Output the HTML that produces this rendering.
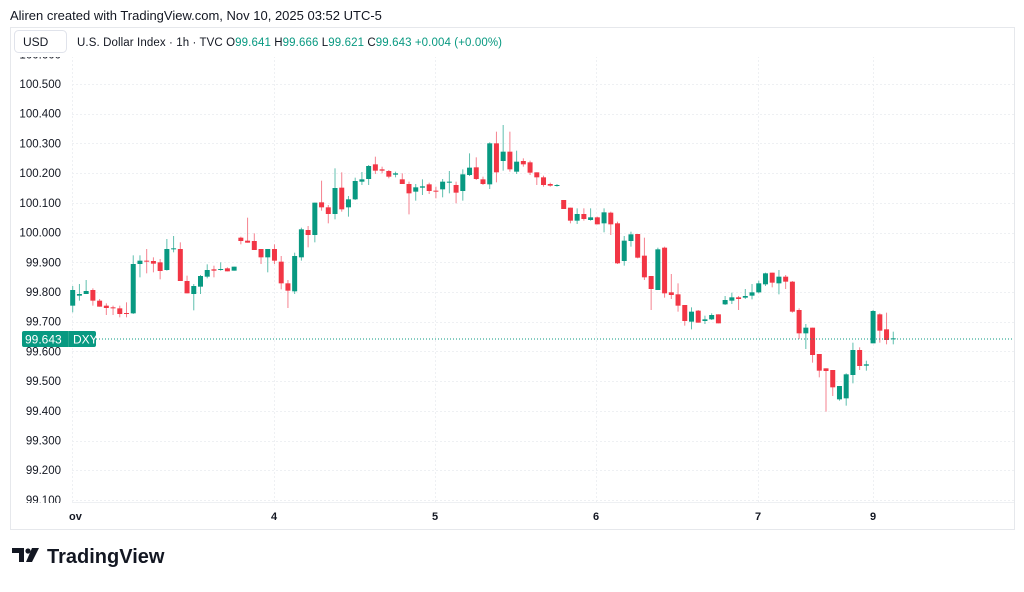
<!DOCTYPE html>
<html><head><meta charset="utf-8"><style>
body{margin:0;background:#fff;width:1024px;height:587px;overflow:hidden;font-family:"Liberation Sans",sans-serif}
</style></head><body>
<svg id="s" width="1024" height="587" xmlns="http://www.w3.org/2000/svg" font-family="Liberation Sans, sans-serif">
<rect x="0" y="0" width="1024" height="587" fill="#fff"/>
<text x="10" y="20" font-size="13" fill="#131722">Aliren created with TradingView.com, Nov 10, 2025 03:52 UTC-5</text>
<rect x="10.5" y="27.5" width="1004" height="502" fill="#fff" stroke="#e6e8ec"/>
<g id="grid"></g>
<g id="cand"></g>
<g id="hdr">
<rect x="11" y="28" width="1003" height="29" fill="#fff"/>
<rect x="14.5" y="30.5" width="52" height="22" rx="4" fill="#fff" stroke="#e0e3eb"/>
<text x="23" y="46" font-size="12" fill="#131722">USD</text>
<text x="77" y="46" font-size="11.5" fill="#131722" textLength="425">U.S. Dollar Index · 1h · TVC <tspan>O</tspan><tspan fill="#089981">99.641</tspan> H<tspan fill="#089981">99.666</tspan> L<tspan fill="#089981">99.621</tspan> C<tspan fill="#089981">99.643</tspan> <tspan fill="#089981">+0.004 (+0.00%)</tspan></text>
</g>
<line x1="72" y1="339" x2="1014" y2="339" stroke="#089981" stroke-width="1" stroke-dasharray="1,2"/>
<rect x="22" y="331" width="74" height="16" rx="2" fill="#089981"/>
<line x1="68.5" y1="331" x2="68.5" y2="347" stroke="#2aa88f"/>
<text x="25" y="343.5" font-size="12" fill="#fff">99.643</text>
<text x="73" y="343.5" font-size="12" fill="#fff">DXY</text>
<g font-size="11" fill="#131722" font-weight="bold">
<text x="69" y="520">ov</text><text x="271" y="520">4</text><text x="432" y="520">5</text><text x="593" y="520">6</text><text x="755" y="520">7</text><text x="870" y="520">9</text>
</g>
<g transform="translate(12,548)">
<path d="M0 0h12v14h-5v-9h-7z" fill="#131722"/>
<circle cx="16" cy="3" r="2.6" fill="#131722"/>
<path d="M20 0h7l-7 14h-6z" fill="#131722"/>
<text x="35" y="15" font-size="20" font-weight="bold" fill="#131722">TradingView</text>
</g>
</svg>
<script>
var NS="http://www.w3.org/2000/svg";
function el(p,t,a){var e=document.createElementNS(NS,t);for(var k in a)e.setAttribute(k,a[k]);p.appendChild(e);return e;}
var grid=document.getElementById('grid'),cand=document.getElementById('cand');
function Y(p){return 84+(100.5-p)*297.1;}
[72,274,435,596,758,873].forEach(function(x){el(grid,'line',{x1:x+.5,y1:28,x2:x+.5,y2:502,stroke:'#eef0f3','stroke-dasharray':'2,2'});});
el(grid,'line',{x1:72,y1:502.5,x2:1014,y2:502.5,stroke:'#eef0f3'});
for(var i=0;i<=15;i++){var p=99.1+i*0.1,y=Y(p);
 if(y>60)el(grid,'line',{x1:72,y1:Math.round(y)+.5,x2:1014,y2:Math.round(y)+.5,stroke:'#eef0f3','stroke-dasharray':'2,2'});
 var t=el(grid,'text',{x:61,y:y+4,'font-size':11.5,fill:'#131722','text-anchor':'end'});t.textContent=p.toFixed(3);}
el(grid,'rect',{x:11,y:503,width:60,height:10,fill:'#fff'});
var segs=[
[150,[[420,467,408,487,'g'],[432,437,402,452,'g'],[423,432,390,432,'g'],[420,452,415,467,'r'],[452,470,447,470,'r'],[467,474,460,495,'r'],[472,475,467,495,'r'],[475,492,467,502,'r'],[489,492,457,502,'r'],[342,490,316,492,'g'],[332,342,316,382,'g'],[332,334,297,370,'r'],[333,341,322,367,'r'],[337,363,327,388,'r'],[297,360,267,362,'g'],[295,298,258,307,'g'],[297,393,277,393,'r'],[393,430,377,430,'r'],[408,432,402,481,'g'],[378,410,375,432,'g'],[360,380,343,385,'g'],[358,362,347,382,'r'],[357,358,337,362,'g'],[355,364,352,364,'r'],[350,362,350,362,'g'],[263,273,260,283,'r'],[272,278,203,278,'r'],[273,300,250,300,'r'],[297,322,297,342,'r'],[297,322,297,367,'g'],[297,332,283,342,'r'],[335,400,318,418,'r'],[400,422,390,474,'r'],[318,424,308,432,'g'],[238,322,233,332,'g'],[240,255,228,292,'r'],[158,255,158,277,'g']]],
[120,[[247,262,182,272,'r'],[262,282,255,310,'r'],[204,282,145,298,'g'],[203,268,157,275,'r'],[238,262,228,290,'g'],[183,238,173,240,'g'],[178,185,156,195,'g'],[138,177,135,195,'g'],[133,152,110,162,'r'],[148,152,140,160,'r'],[153,170,150,175,'r'],[160,164,155,172,'g'],[178,192,160,192,'r'],[192,220,185,283,'r'],[202,215,192,242,'g'],[199,203,178,225,'g'],[193,213,188,222,'r'],[212,213,200,235,'r'],[185,208,177,232,'g'],[185,186,153,220,'g'],[195,218,185,250,'r'],[163,213,148,242,'g'],[143,165,100,168,'g'],[142,177,112,180,'r'],[178,192,170,195,'r'],[70,193,67,207,'g'],[70,157,35,187,'r'],[95,123,15,152,'g'],[95,148,35,155,'r'],[125,155,92,162,'g'],[123,133,115,140,'r'],[127,158,122,165,'r'],[157,172,157,195,'r'],[172,195,167,200,'r'],[192,197,188,200,'r'],[195,197,192,200,'g']]],
[170,[[90,117,90,117,'r'],[113,152,113,160,'r'],[132,152,115,162,'g'],[132,147,115,152,'r'],[142,150,115,152,'g'],[142,163,140,163,'r'],[127,160,115,187,'g'],[128,163,125,195,'r'],[160,280,155,282,'r'],[212,273,198,287,'g'],[193,213,185,230,'g'],[192,263,192,265,'r'],[257,322,203,330,'r'],[318,357,318,420,'r'],[238,360,233,360,'g'],[233,370,230,383,'r'],[367,375,312,387,'r'],[373,407,340,425,'r'],[405,453,405,467,'r'],[425,455,412,478,'g'],[422,458,420,458,'r'],[448,453,437,462,'g'],[435,448,430,450,'g'],[433,460,433,460,'r'],[390,403,378,405,'g'],[382,392,368,402,'g'],[382,387,378,420,'r'],[378,383,357,387,'g']]],
[260,[[97,107,72,118,'g'],[70,97,62,100,'g'],[40,73,38,78,'g'],[38,68,38,82,'r'],[50,70,30,103,'g'],[50,65,45,87,'r'],[65,155,63,158,'r'],[150,220,145,237,'r'],[203,220,192,267,'g'],[203,285,203,308,'r'],[282,332,282,352,'r'],[325,333,325,455,'r'],[330,382,330,408,'r'],[378,418,378,422,'g'],[343,415,340,437,'g'],[270,345,248,370,'g'],[270,318,262,330,'r'],[313,317,302,332,'g'],[153,250,150,250,'g'],[163,212,160,248,'r'],[208,240,158,253,'r'],[235,236,215,253,'g']]]
];
var idx=0;
segs.forEach(function(s){var o=s[0];s[1].forEach(function(c){
 var x=72.7+6.726*idx;idx++;
 var col=c[4]=='g'?'#089981':'#f23645',wc=c[4]=='g'?'#5fbfae':'#f5828f';
 var bt=o+c[0]/3,bb=o+c[1]/3,wt=o+c[2]/3,wb=o+c[3]/3;
 el(cand,'line',{x1:x,y1:wt,x2:x,y2:wb,stroke:wc,'stroke-width':1});
 el(cand,'rect',{x:x-2.5,y:bt,width:5,height:Math.max(1,bb-bt),fill:col});
});});
</script>
</body></html>
